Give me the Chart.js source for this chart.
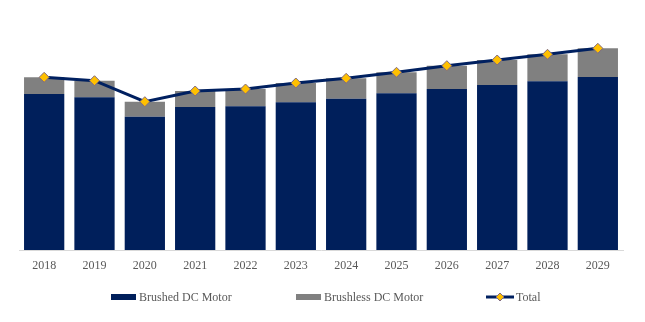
<!DOCTYPE html>
<html>
<head>
<meta charset="utf-8">
<script src="https://cdn.jsdelivr.net/npm/chart.js@4/dist/chart.umd.min.js"></script>
<style>
  html, body { margin: 0; padding: 0; background: #ffffff; }
  #wrap { width: 645px; height: 322px; position: relative; }
</style>
</head>
<body>
<div id="wrap"><canvas id="c" width="645" height="322"></canvas></div>
<script>
const years = ['2018','2019','2020','2021','2022','2023','2024','2025','2026','2027','2028','2029'];
const brushed   = [15.6, 15.27, 13.33, 14.3, 14.37, 14.77, 15.13, 15.67, 16.1, 16.5, 16.87, 17.3];
const brushless = [1.67, 1.66, 1.5, 1.6, 1.73, 1.93, 2.04, 2.1, 2.33, 2.5, 2.7, 2.87];
const total     = [17.27, 16.93, 14.83, 15.9, 16.1, 16.7, 17.17, 17.77, 18.43, 19.0, 19.57, 20.17];
const seriesNames = ['Brushed DC Motor', 'Brushless DC Motor', 'Total'];

const NAVY = '#001F5B';
const GREY = '#808080';
const LINE = '#002060';
const GOLD = '#FFC000';
const FONT = "'Liberation Serif', 'Times New Roman', serif";

const legendPlugin = {
  id: 'customLegend',
  afterDraw(chart) {
    const ctx = chart.ctx;
    const y = 297;
    ctx.save();
    ctx.font = '12px ' + FONT;
    ctx.fillStyle = '#595959';
    ctx.textBaseline = 'middle';
    // item 1
    ctx.fillStyle = NAVY;
    ctx.fillRect(111, y - 3, 25, 6);
    ctx.fillStyle = '#595959';
    ctx.fillText(seriesNames[0], 139, y + 0.5);
    // item 2
    ctx.fillStyle = GREY;
    ctx.fillRect(296, y - 3, 25, 6);
    ctx.fillStyle = '#595959';
    ctx.fillText(seriesNames[1], 324, y + 0.5);
    // item 3
    ctx.strokeStyle = LINE;
    ctx.lineWidth = 3;
    ctx.beginPath();
    ctx.moveTo(486, y);
    ctx.lineTo(514, y);
    ctx.stroke();
    ctx.fillStyle = GOLD;
    ctx.strokeStyle = '#7F6A80';
    ctx.lineWidth = 1;
    ctx.beginPath();
    ctx.moveTo(500 - 4, y);
    ctx.lineTo(500, y - 4);
    ctx.lineTo(500 + 4, y);
    ctx.lineTo(500, y + 4);
    ctx.closePath();
    ctx.fill();
    ctx.stroke();
    ctx.fillStyle = '#595959';
    ctx.fillText(seriesNames[2], 516, y + 0.5);
    ctx.restore();
  }
};

new Chart(document.getElementById('c'), {
  type: 'bar',
  data: {
    labels: years,
    datasets: [
      {
        type: 'line',
        label: seriesNames[2],
        data: total,
        stack: 'total',
        order: 0,
        borderColor: LINE,
        borderWidth: 3,
        pointStyle: 'rectRot',
        pointRadius: 5,
        pointBackgroundColor: GOLD,
        pointBorderColor: '#7F6A80',
        pointBorderWidth: 1,
        tension: 0,
        fill: false
      },
      {
        label: seriesNames[0],
        data: brushed,
        backgroundColor: NAVY,
        stack: 'bars',
        order: 1,
        barPercentage: 0.8,
        categoryPercentage: 1.0
      },
      {
        label: seriesNames[1],
        data: brushless,
        backgroundColor: GREY,
        stack: 'bars',
        order: 1,
        barPercentage: 0.8,
        categoryPercentage: 1.0
      }
    ]
  },
  options: {
    responsive: false,
    animation: false,
    devicePixelRatio: 1,
    layout: { padding: { left: 19, right: 22, top: 20, bottom: 50 } },
    plugins: {
      legend: { display: false },
      tooltip: { enabled: false }
    },
    scales: {
      x: {
        stacked: true,
        grid: { display: false, drawTicks: false },
        border: { display: true, color: '#D9D9D9', width: 1 },
        ticks: {
          color: '#595959',
          font: { family: FONT, size: 12 },
          padding: 9
        },
        afterFit(s) { s.height = 22; }
      },
      y: {
        display: false,
        stacked: true,
        min: 0,
        max: 23
      }
    }
  },
  plugins: [legendPlugin]
});
</script>
</body>
</html>
